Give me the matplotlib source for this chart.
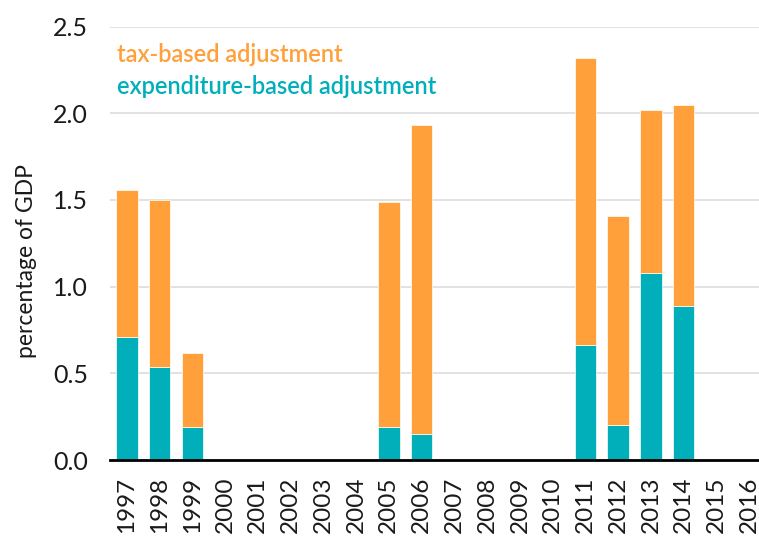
import matplotlib.pyplot as plt

years = [str(y) for y in range(1997, 2017)]
expenditure = [0.71, 0.54, 0.19, 0, 0, 0, 0, 0, 0.19, 0.15,
               0, 0, 0, 0, 0.665, 0.20, 1.08, 0.89, 0, 0]
total = [1.56, 1.50, 0.62, 0, 0, 0, 0, 0, 1.49, 1.93,
         0, 0, 0, 0, 2.32, 1.41, 2.02, 2.05, 0, 0]
tax = [t - e for t, e in zip(total, expenditure)]

orange = "#FFA03A"
teal = "#00AFBA"

plt.rcParams['font.family'] = ['Lato', 'DejaVu Sans']

fig = plt.figure(figsize=(7.59, 5.42), dpi=100)
ax = fig.add_axes([0.1455, 0.151, 0.8545, 0.80])

x = list(range(len(years)))
ax.bar(x, expenditure, width=0.66, color=teal, edgecolor="white", linewidth=0.5, zorder=3)
ax.bar(x, tax, bottom=expenditure, width=0.66, color=orange, edgecolor="white", linewidth=0.5, zorder=3)

ax.set_xlim(-0.5, 19.3)
ax.set_ylim(0, 2.5)
ax.set_yticks([0, 0.5, 1.0, 1.5, 2.0, 2.5])
ax.set_yticklabels(["0.0", "0.5", "1.0", "1.5", "2.0", "2.5"])
ax.set_xticks(x)
ax.set_xticklabels(years, rotation=90)
ax.tick_params(axis="y", length=0, pad=16, labelsize=18, colors="#1a1a1a")
ax.tick_params(axis="x", length=0, pad=12, labelsize=17.5, colors="#1a1a1a")

ax.grid(axis="y", color="#dddddd", linewidth=1.2, zorder=0)
ax.set_axisbelow(True)
for s in ["top", "right", "left"]:
    ax.spines[s].set_visible(False)
ax.spines["bottom"].set_linewidth(2)
ax.spines["bottom"].set_color("black")
ax.spines["bottom"].set_zorder(5)

ax.set_ylabel("percentage of GDP", fontsize=16.5, color="#1a1a1a")
ax.yaxis.set_label_coords(-0.113, 0.46)

fig.text(117 / 759, 1 - 54 / 542, "tax-based adjustment", color=orange,
         fontsize=17, fontweight="semibold", va="center", ha="left")
fig.text(117 / 759, 1 - 86 / 542, "expenditure-based adjustment", color=teal,
         fontsize=17, fontweight="semibold", va="center", ha="left")

plt.savefig("out.png", dpi=100)
